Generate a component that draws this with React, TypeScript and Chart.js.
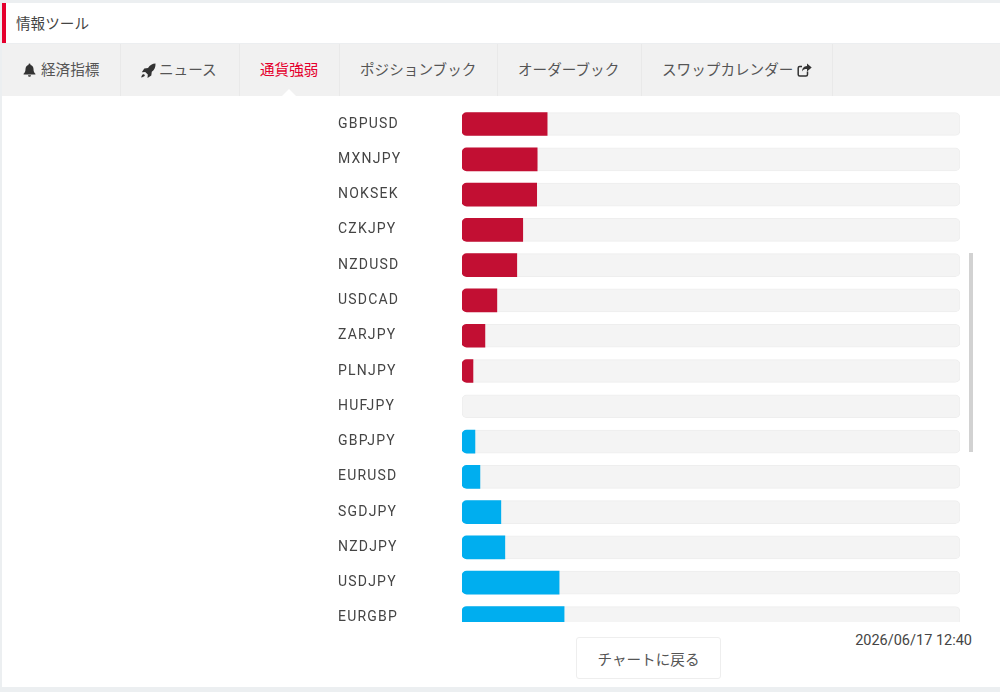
import React, { useEffect, useRef } from "react";
import { Chart, registerables } from "chart.js";

Chart.register(...registerables);

const pairs = ["GBPUSD", "MXNJPY", "NOKSEK", "CZKJPY", "NZDUSD", "USDCAD", "ZARJPY", "PLNJPY", "HUFJPY", "GBPJPY", "EURUSD", "SGDJPY", "NZDJPY", "USDJPY", "EURGBP"];
const strongValues = [17.1, 15.1, 15.0, 12.2, 11.0, 7.0, 4.6, 2.2, 0, null, null, null, null, null, null];
const weakValues = [null, null, null, null, null, null, null, null, null, 2.6, 3.6, 7.8, 8.6, 19.5, 20.5];
const trackValues = [100, 100, 100, 100, 100, 100, 100, 100, 100, 100, 100, 100, 100, 100, 100];

const RED = "#c20f33";
const BLUE = "#00aeef";
const JP = '"Noto Sans CJK JP", Roboto, sans-serif';

const Bell = () => (
  <svg width="13" height="14" viewBox="0 0 13 14" style={{ display: "block" }}>
    <path fill="#333" d="M6.5 0.5a1 1 0 0 1 1 1v.4c2 .5 3 2.2 3 4.1 0 2.6.8 3.6 1.9 4.8v.7H.6v-.7C1.700 9.6 2.500 8.600 2.500 6c0-1.900 1-3.600 3-4.100v-.4a1 1 0 0 1 1-1zM5 12.300h3a1.500 1.500 0 0 1-3 0z" />
  </svg>
);
const Rocket = () => (
  <svg width="16" height="16" viewBox="0 0 16 16" style={{ display: "block" }}>
    <path fill="#333" d="M15.500.5c.2 3.500-1 6.300-3.700 8.300l-.5 3.700-3.800 2.500.3-3.400-2.600-2.600-3.400.3L4.300 5.500 8 5C10 2 12.300.6 15.500.5zM3.500 11.300c.8 0 1.400.7 1.300 1.500-.3.900-2.300 1.500-3.600 1.700.2-1.300.9-3.100 2.300-3.200z" />
  </svg>
);
const Share = () => (
  <svg width="15" height="14" viewBox="0 0 15 14" style={{ display: "block" }}>
    <path fill="none" stroke="#333" strokeWidth="1.500" d="M10.500 8.500v3a1.500 1.500 0 0 1-1.500 1.500H2.700a1.500 1.500 0 0 1-1.500-1.500V5a1.500 1.500 0 0 1 1.500-1.500H5" />
    <path fill="#333" d="M10 .5l4.700 4-4.700 4V6C7.500 6 6 6.500 5 8.500c0-3 1.800-5.300 5-5.500z" />
  </svg>
);

const tabs: { label: string; right: number; textX: number; icon?: React.ReactNode; iconX?: number; active?: boolean }[] = [
  { label: "経済指標", right: 120, textX: 41, icon: <Bell />, iconX: 23 },
  { label: "ニュース", right: 239, textX: 159, icon: <Rocket />, iconX: 140 },
  { label: "通貨強弱", right: 339, textX: 260, active: true },
  { label: "ポジションブック", right: 497, textX: 360 },
  { label: "オーダーブック", right: 641, textX: 518 },
  { label: "スワップカレンダー", right: 832, textX: 662, icon: <Share />, iconX: 797 },
];

const abs = (left: number, top: number, width: number, height: number, extra: React.CSSProperties = {}): React.CSSProperties => ({
  position: "absolute", left, top, width, height, ...extra,
});

const hideZero = (color: string) => (c: any) => (c.raw === 0 ? "rgba(0,0,0,0)" : color);

export default function App() {
  const ref = useRef<HTMLCanvasElement>(null);
  useEffect(() => {
    const letterSpacing = {
      id: "letterSpacing",
      beforeDraw(chart: any) {
        chart.ctx.letterSpacing = "1.2px";
      },
    };
    const corners = { topLeft: 5, bottomLeft: 5, topRight: 0, bottomRight: 0 };
    const chart = new Chart(ref.current!, {
      type: "bar",
      plugins: [letterSpacing],
      data: {
        labels: pairs,
        datasets: [
          { label: "strong", data: strongValues, backgroundColor: hideZero(RED), borderSkipped: false, borderRadius: corners, barThickness: 23, order: 1, grouped: false } as any,
          { label: "weak", data: weakValues, backgroundColor: hideZero(BLUE), borderSkipped: false, borderRadius: corners, barThickness: 23, order: 1, grouped: false } as any,
          { label: "track", data: trackValues, backgroundColor: "#f4f4f4", borderColor: "#eeeeee", borderWidth: 1, borderSkipped: false, borderRadius: 5, barThickness: 23, order: 2, grouped: false } as any,
        ],
      },
      options: {
        indexAxis: "y",
        responsive: false,
        animation: false,
        layout: { padding: { left: 338, right: 40, top: 0, bottom: 0 } },
        plugins: { legend: { display: false }, tooltip: { enabled: false } },
        scales: {
          x: { display: false, min: 0, max: 100 },
          y: {
            afterFit(scale: any) { scale.width = 124; },
            grid: { display: false, drawTicks: false },
            border: { display: false },
            ticks: { autoSkip: false, crossAlign: "far", color: "#444444", padding: 0, font: { family: "Roboto", size: 14 } },
          },
        },
      },
    });
    return () => chart.destroy();
  }, []);

  return (
    <div style={abs(0, 0, 1000, 692, { background: "#ffffff", overflow: "hidden", fontFamily: JP, color: "#555" })}>
      <div style={abs(0, 0, 1000, 3, { background: "#eceff1" })} />
      <div style={abs(0, 3, 2, 689, { background: "#eceff1" })} />
      <div style={abs(2, 3, 4, 41, { background: "#e5002d" })} />
      <div style={abs(16, 13, 200, 20, { fontSize: 14.6, lineHeight: "20px", color: "#444" })}>情報ツール</div>

      <div style={abs(2, 43, 998, 53, { background: "#f1f1f1", borderTop: "1px solid #eceef0", boxSizing: "border-box" })} />
      {tabs.map((t) => (
        <React.Fragment key={t.label}>
          <div style={abs(t.right, 44, 1, 52, { background: "#e9e9e9" })} />
          {t.icon ? <div style={abs(t.iconX!, 63, 16, 16)}>{t.icon}</div> : null}
          <div style={abs(t.textX, 58, 190, 22, { fontSize: 14.6, lineHeight: "22px", whiteSpace: "nowrap", color: t.active ? "#e5002d" : "#555" })}>{t.label}</div>
        </React.Fragment>
      ))}
      <div style={abs(282, 89, 14, 7, { background: "#fff", clipPath: "polygon(50% 0, 100% 100%, 0 100%)" })} />

      <div style={abs(0, 98, 1000, 524, { overflow: "hidden" })}>
        <canvas ref={ref} width={1000} height={546} style={{ display: "block" }} />
      </div>

      <div style={abs(969, 253, 4, 199, { background: "#d2d2d2" })} />

      <div style={abs(576, 637, 145, 42, { background: "#fff", border: "1px solid #eeeeee", borderRadius: 3, boxSizing: "border-box", textAlign: "center", fontSize: 14.6, lineHeight: "41px", color: "#555" })}>チャートに戻る</div>
      <div style={abs(800, 632, 172, 18, { textAlign: "right", fontFamily: "Roboto", fontSize: 14.5, lineHeight: "18px", color: "#444" })}>2026/06/17 12:40</div>
      <div style={abs(0, 687, 1000, 5, { background: "#eceff1" })} />
    </div>
  );
}
